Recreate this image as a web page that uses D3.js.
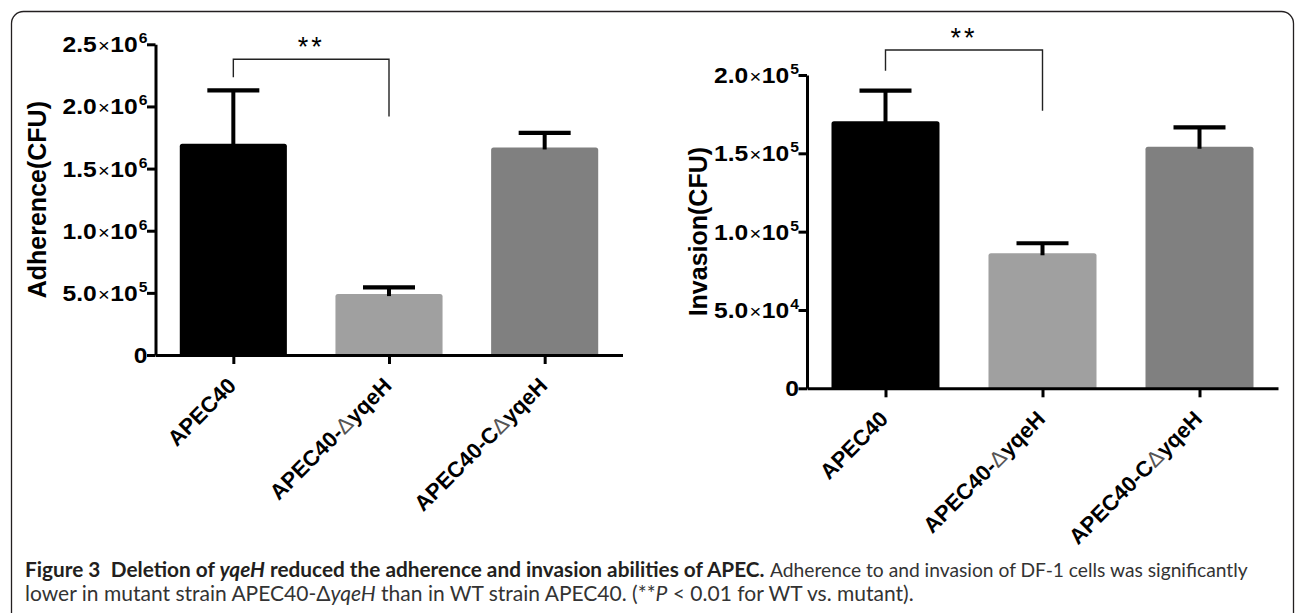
<!DOCTYPE html>
<html><head><meta charset="utf-8">
<script src="https://cdn.jsdelivr.net/npm/d3@7"></script>
<style>body{margin:0;background:#fff} svg{display:block}</style>
</head><body>
<svg id="fig" width="1295" height="613"></svg>
<script>
// ---- data ----
const categories = ["APEC40", "APEC40-ΔyqeH", "APEC40-CΔyqeH"];
const adherenceMean = [1.70e6, 0.49e6, 1.67e6];
const adherenceSD   = [0.43e6, 0.054e6, 0.117e6];
const invasionMean  = [1.705e5, 0.862e5, 1.542e5];
const invasionSD    = [0.195e5, 0.064e5, 0.124e5];
const adherenceTicks = [0, 5e5, 1e6, 1.5e6, 2e6, 2.5e6];
const invasionTicks  = [0, 5e4, 1e5, 1.5e5, 2e5];
const adherenceBracket = [2.38e6, 2.235e6, 1.92e6];   // bar level, left leg end, right leg end
const invasionBracket  = [2.16e5, 2.027e5, 1.772e5];
const sigLabel = "**";
const barColors = ["#000000", "#a0a0a0", "#808080"];

const svg = d3.select("#fig");
const FONT = "Liberation Sans, Arial, Helvetica, sans-serif";

// outer frame
svg.append("rect").attr("x", 11.5).attr("y", 11.5).attr("width", 1282).attr("height", 700)
  .attr("rx", 12).attr("fill", "none").attr("stroke", "#231f20").attr("stroke-width", 1.3);

function roundedTop(x, y, w, h, r) {
  return `M${x},${y + h}V${y + r}Q${x},${y} ${x + r},${y}H${x + w - r}Q${x + w},${y} ${x + w},${y + r}V${y + h}Z`;
}

function drawPanel(cfg) {
  const x = d3.scalePoint().domain(categories).range([cfg.left, cfg.right]).padding(0.5);
  const y = d3.scaleLinear().domain([0, cfg.ticks[cfg.ticks.length - 1]]).range([cfg.bottom, cfg.top]);
  const bw = x.step() * 0.688;
  const g = svg.append("g");

  // bars
  g.selectAll("path.bar").data(cfg.mean).join("path").attr("class", "bar")
    .attr("d", (d, i) => roundedTop(x(categories[i]) - bw / 2, y(d), bw, y(0) - y(d), 2.5))
    .attr("fill", (d, i) => barColors[i]);

  // error bars
  const eb = g.selectAll("g.err").data(cfg.mean).join("g").attr("class", "err");
  eb.append("line")
    .attr("x1", (d, i) => x(categories[i])).attr("x2", (d, i) => x(categories[i]))
    .attr("y1", d => y(d) + 2).attr("y2", (d, i) => y(d + cfg.sd[i]))
    .attr("stroke", "#000").attr("stroke-width", 4);
  eb.append("line")
    .attr("x1", (d, i) => x(categories[i]) - 26).attr("x2", (d, i) => x(categories[i]) + 26)
    .attr("y1", (d, i) => y(d + cfg.sd[i])).attr("y2", (d, i) => y(d + cfg.sd[i]))
    .attr("stroke", "#000").attr("stroke-width", 4.2);

  // axes
  const ya = g.append("g").attr("transform", `translate(${cfg.left},0)`)
    .call(d3.axisLeft(y).tickValues(cfg.ticks).tickSize(8.5).tickSizeOuter(0).tickFormat(""));
  ya.selectAll("path, line").attr("stroke", "#000").attr("stroke-width", 3);

  const xa = g.append("g").attr("transform", `translate(0,${cfg.bottom})`)
    .call(d3.axisBottom(x).tickSize(9).tickSizeOuter(0).tickFormat(""));
  xa.selectAll("path, line").attr("stroke", "#000").attr("stroke-width", 3);

  // y tick labels
  cfg.ticks.forEach(t => {
    const txt = g.append("text")
      .attr("transform", `translate(${cfg.left - 8},${y(t)}) scale(1.12,1)`)
      .attr("dy", "0.36em")
      .attr("text-anchor", "end").attr("font-family", FONT).attr("font-weight", "bold")
      .attr("font-size", 22).attr("fill", "#000");
    if (t === 0) { txt.text("0"); return; }
    const e = Math.floor(Math.log10(t) + 1e-9);
    const m = (t / Math.pow(10, e)).toFixed(1);
    txt.append("tspan").text(m);
    txt.append("tspan").attr("font-weight", "normal").attr("font-size", 18).attr("dx", 1).text("×");
    txt.append("tspan").attr("dx", 0.5).text("10");
    txt.append("tspan").attr("font-size", 14).attr("dy", -9).attr("dx", 1).text(e);
  });

  // x tick labels
  categories.forEach(c => {
    const parts = c.split("Δ");
    const txt = g.append("text")
      .attr("transform", `translate(${x(c) + 4},${cfg.bottom + 32}) rotate(-45)`)
      .attr("text-anchor", "end").attr("font-family", FONT).attr("font-weight", "bold")
      .attr("font-size", 22).attr("fill", "#000");
    txt.append("tspan").text(parts[0]);
    if (parts.length > 1) {
      txt.append("tspan").attr("font-weight", "normal").attr("fill", "#555").text("Δ");
      txt.append("tspan").text(parts[1]);
    }
  });

  // y axis title
  g.append("text").attr("transform", `translate(${cfg.titleX},${(cfg.top + cfg.bottom) / 2}) rotate(-90)`)
    .attr("text-anchor", "middle").attr("font-family", FONT).attr("font-weight", "bold")
    .attr("font-size", 25).attr("fill", "#000").text(cfg.title);

  // significance bracket
  const xa0 = x(categories[0]), xb0 = x(categories[1]);
  g.append("path")
    .attr("d", `M${xa0},${y(cfg.bracket[1])}V${y(cfg.bracket[0])}H${xb0}V${y(cfg.bracket[2])}`)
    .attr("fill", "none").attr("stroke", "#222").attr("stroke-width", 1.4);
  g.append("text").attr("x", (xa0 + xb0) / 2).attr("y", y(cfg.bracket[0]) - 3)
    .attr("text-anchor", "middle").attr("font-family", FONT).attr("font-size", 27)
    .attr("letter-spacing", 3).attr("fill", "#000").text(sigLabel);
}

drawPanel({ left: 155.5, right: 622.5, top: 44.3, bottom: 355, mean: adherenceMean, sd: adherenceSD,
  ticks: adherenceTicks, bracket: adherenceBracket, title: "Adherence(CFU)", titleX: 46 });
drawPanel({ left: 807, right: 1278, top: 75, bottom: 388.3, mean: invasionMean, sd: invasionSD,
  ticks: invasionTicks, bracket: invasionBracket, title: "Invasion(CFU)", titleX: 707 });

// caption
const CAP = "Lato, 'Open Sans', sans-serif";
function fitSize(sel, base, target) {
  const w = sel.node().getComputedTextLength();
  sel.attr("font-size", (base * target / w).toFixed(2));
}
const c1 = svg.append("text").attr("x", 25).attr("y", 577).attr("font-family", CAP).attr("font-size", 16)
  .attr("font-weight", "bold").attr("fill", "#231f20");
c1.append("tspan").text("Figure 3\u2002Deletion of ");
c1.append("tspan").attr("font-style", "italic").text("yqeH");
c1.append("tspan").text(" reduced the adherence and invasion abilities of APEC.");
fitSize(c1, 16, 740);

const cr = svg.append("text").attr("x", 770).attr("y", 577).attr("font-family", CAP).attr("font-size", 16)
  .attr("fill", "#333").text("Adherence to and invasion of DF-1 cells was significantly");
fitSize(cr, 16, 478);

const c2 = svg.append("text").attr("x", 25).attr("y", 601).attr("font-family", CAP).attr("font-size", 16)
  .attr("fill", "#333");
c2.append("tspan").text("lower in mutant strain APEC40-Δ");
c2.append("tspan").attr("font-style", "italic").text("yqeH");
c2.append("tspan").text(" than in WT strain APEC40. (**");
c2.append("tspan").attr("font-style", "italic").text("P");
c2.append("tspan").text(" < 0.01 for WT vs. mutant).");
fitSize(c2, 16, 889);
</script>
</body></html>
